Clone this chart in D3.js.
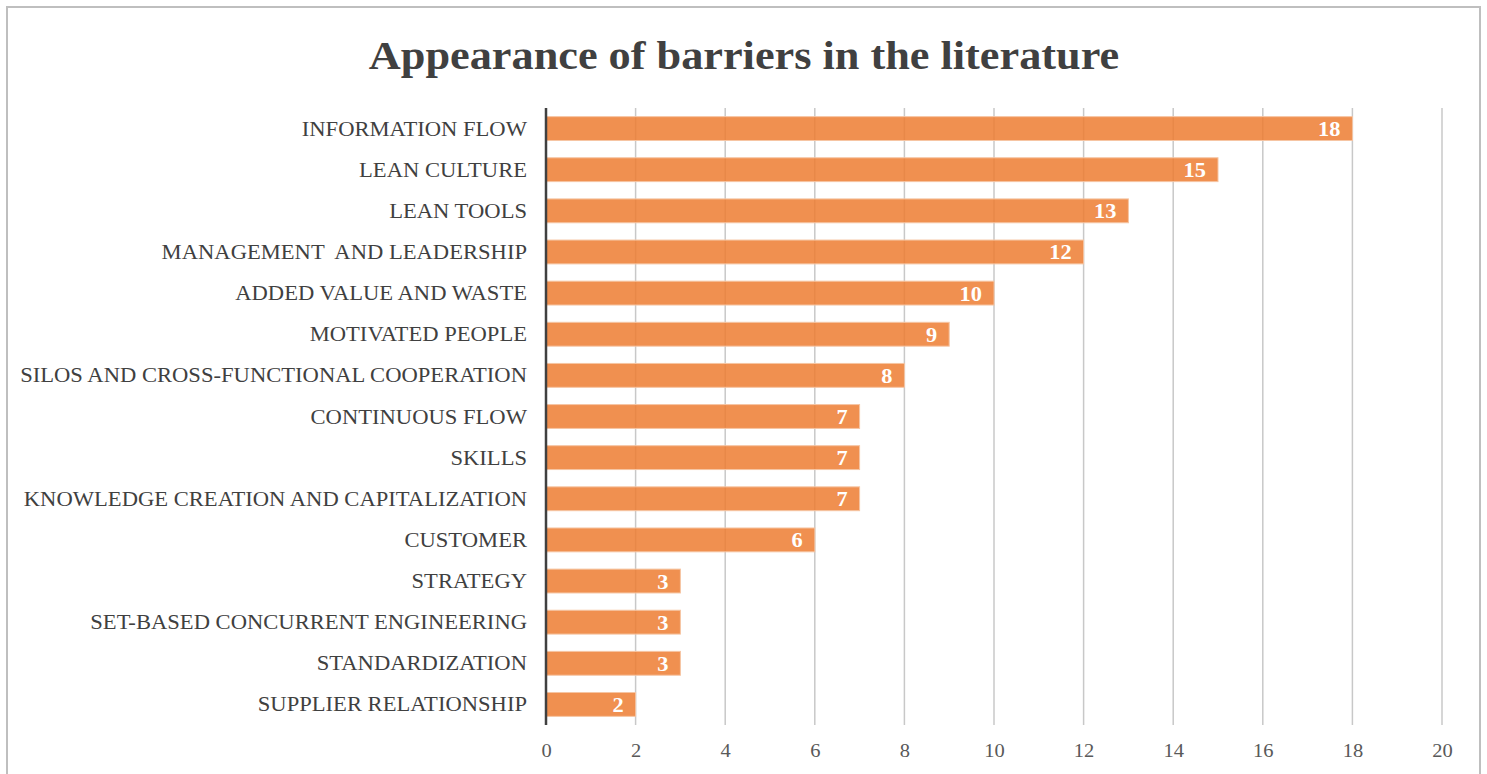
<!DOCTYPE html>
<html>
<head>
<meta charset="utf-8">
<script src="https://cdn.jsdelivr.net/npm/d3@7/dist/d3.min.js"></script>
<style>
  html, body { margin: 0; padding: 0; background: #fff; }
  svg { display: block; }
</style>
</head>
<body>
<svg id="chart" width="1487" height="774"></svg>
<script>
const chartTitle = "Appearance of barriers in the literature";
const categories = [
  "INFORMATION FLOW",
  "LEAN CULTURE",
  "LEAN TOOLS",
  "MANAGEMENT  AND LEADERSHIP",
  "ADDED VALUE AND WASTE",
  "MOTIVATED PEOPLE",
  "SILOS AND CROSS-FUNCTIONAL COOPERATION",
  "CONTINUOUS FLOW",
  "SKILLS",
  "KNOWLEDGE CREATION AND CAPITALIZATION",
  "CUSTOMER",
  "STRATEGY",
  "SET-BASED CONCURRENT ENGINEERING",
  "STANDARDIZATION",
  "SUPPLIER RELATIONSHIP"
];
const values = [18, 15, 13, 12, 10, 9, 8, 7, 7, 7, 6, 3, 3, 3, 2];
const xTicks = [0, 2, 4, 6, 8, 10, 12, 14, 16, 18, 20];

(function () {
const svg = d3.select("#chart");
const serif = "'Liberation Serif', 'Times New Roman', serif";

// outer border
svg.append("rect")
  .attr("x", 7).attr("y", 7)
  .attr("width", 1473).attr("height", 780)
  .attr("fill", "#fff")
  .attr("stroke", "#bfbfbf")
  .attr("stroke-width", 2);

// title
svg.append("text")
  .attr("transform", "translate(744,69) scale(1.08,1)")
  .attr("text-anchor", "middle")
  .attr("font-family", serif)
  .attr("font-weight", "bold")
  .attr("font-size", 41)
  .attr("fill", "#404040")
  .text(chartTitle);

const pL = 546, pR = 1442, pT = 108, pB = 725;
const x = d3.scaleLinear().domain([0, 20]).range([pL, pR]);
const y = d3.scaleBand().domain(categories).range([pT, pB]).paddingInner(0.42).paddingOuter(0.21);

// gridlines
svg.append("g")
  .selectAll("line")
  .data(xTicks.filter(t => t > 0))
  .join("line")
  .attr("x1", d => x(d)).attr("x2", d => x(d))
  .attr("y1", pT).attr("y2", pB)
  .attr("stroke", "#c8c8c8")
  .attr("stroke-width", 1.5);

// bars
svg.append("g")
  .selectAll("rect")
  .data(categories)
  .join("rect")
  .attr("x", x(0))
  .attr("y", d => y(d))
  .attr("width", (d, i) => x(values[i]) - x(0))
  .attr("height", y.bandwidth())
  .attr("fill", "#ED7D31")
  .attr("fill-opacity", 0.85)
  .attr("stroke", "#f6c5a3")
  .attr("stroke-width", 1);

// value labels
svg.append("g")
  .selectAll("text")
  .data(categories)
  .join("text")
  .attr("transform", (d, i) => `translate(${x(values[i]) - 12},${y(d) + y.bandwidth() / 2 + 7.5}) scale(1.12,1)`)
  .attr("text-anchor", "end")
  .attr("font-family", serif)
  .attr("font-weight", "bold")
  .attr("font-size", 20)
  .attr("fill", "#ffffff")
  .text((d, i) => values[i]);

// category axis
const sx = 1.13;
const yAxis = d3.axisLeft(y).tickSize(0).tickPadding(19);
const gy = svg.append("g").attr("transform", `translate(${pL},0)`).call(yAxis);
gy.select(".domain").remove();
gy.selectAll("text")
  .attr("x", -19 / sx)
  .attr("dy", null)
  .attr("y", 7)
  .attr("transform", `scale(${sx},1)`)
  .style("white-space", "pre")
  .attr("font-family", serif)
  .attr("font-size", 20)
  .attr("fill", "#404040");

// vertical axis line
svg.append("line")
  .attr("x1", pL).attr("x2", pL)
  .attr("y1", pT).attr("y2", pB)
  .attr("stroke", "#404040")
  .attr("stroke-width", 2.5);

// x axis tick labels
const xAxis = d3.axisBottom(x).tickValues(xTicks).tickSize(0).tickPadding(19);
const gx = svg.append("g").attr("transform", `translate(0,${pB})`).call(xAxis);
gx.select(".domain").remove();
gx.selectAll("text")
  .attr("transform", "scale(1.08,1)")
  .attr("font-family", serif)
  .attr("font-size", 19)
  .attr("fill", "#595959");
})();
</script>
</body>
</html>
